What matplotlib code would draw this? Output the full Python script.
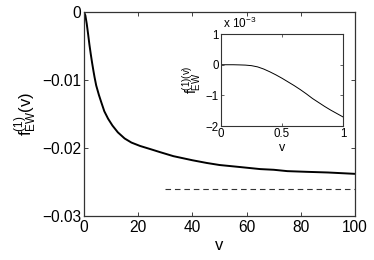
import matplotlib
matplotlib.use("Agg")
import matplotlib.pyplot as plt

plt.rcParams['font.family'] = ['Liberation Sans', 'DejaVu Sans']
plt.rcParams['mathtext.fontset'] = 'custom'
plt.rcParams['mathtext.rm'] = 'Liberation Sans'
plt.rcParams['mathtext.it'] = 'Liberation Sans'

# main curve
v_main = [0, 0.5, 1, 1.5, 2, 2.5, 3, 3.5, 3.9, 4.5, 5.5, 6.4, 7.5, 8.9, 10.5,
          12.5, 15, 17.5, 20.7, 24.8, 28, 33, 40, 45.3, 50, 57.6, 65, 70, 75,
          82, 90, 100]
f_main = [0, -0.0005, -0.0017, -0.0032, -0.0048, -0.0062, -0.0075, -0.0087,
          -0.0096, -0.0108, -0.0122, -0.0133, -0.0146, -0.0157, -0.0167,
          -0.0177, -0.0186, -0.0192, -0.0197, -0.0202, -0.0206, -0.0212,
          -0.0218, -0.0222, -0.0225, -0.0228, -0.0231, -0.0232, -0.0234,
          -0.0235, -0.0236, -0.0238]
# asymptote
v_asym = [30, 100]
f_asym = [-0.026, -0.026]

# inset curve (units of 1e-3)
v_ins = [0, 0.1, 0.15, 0.2, 0.25, 0.3, 0.35, 0.4, 0.45, 0.5, 0.55, 0.6, 0.65,
         0.7, 0.75, 0.8, 0.85, 0.9, 0.95, 1.0]
f_ins = [0, 0, -0.005, -0.012, -0.03, -0.07, -0.14, -0.23, -0.33, -0.44,
         -0.56, -0.68, -0.81, -0.95, -1.10, -1.23, -1.36, -1.48, -1.59, -1.70]

main_xticks = [0, 20, 40, 60, 80, 100]
main_yticks = [0, -0.01, -0.02, -0.03]
main_yticklabels = ['0', '\u22120.01', '\u22120.02', '\u22120.03']
ins_xticks = [0, 0.5, 1]
ins_xticklabels = ['0', '0.5', '1']
ins_yticks = [-2, -1, 0, 1]
ins_yticklabels = ['\u22122', '\u22121', '0', '1']

fig = plt.figure(figsize=(3.74, 2.60), dpi=100)
ax = fig.add_axes([0.2246, 0.1692, 0.7246, 0.7846])
ax.plot(v_main, f_main, color='black', lw=1.4)
ax.plot(v_asym, f_asym, color='#333333', lw=0.8, dashes=(5, 3.5))
ax.set_xlim(0, 100)
ax.set_ylim(-0.03, 0)
ax.set_xticks(main_xticks)
ax.set_yticks(main_yticks)
ax.set_yticklabels(main_yticklabels)
ax.tick_params(direction='in', top=True, right=True, labelsize=11.2,
               length=3, width=0.6, pad=2, colors='#222222')
ax.tick_params(axis='x', pad=3)
ax.tick_params(axis='both', labelcolor='black')
for s in ax.spines.values():
    s.set_linewidth(0.9)
    s.set_color('#333333')
ax.set_xlabel('v', fontsize=12, labelpad=2)
ax.set_ylabel(r'$\mathrm{f}^{(1)}_{\mathrm{EW}}\mathrm{(v)}$', fontsize=12, labelpad=2)

ins = fig.add_axes([0.591, 0.515, 0.326, 0.354])
ins.plot(v_ins, f_ins, color='black', lw=0.7)
ins.set_xlim(0, 1)
ins.set_ylim(-2, 1)
ins.set_xticks(ins_xticks)
ins.set_xticklabels(ins_xticklabels)
ins.set_yticks(ins_yticks)
ins.set_yticklabels(ins_yticklabels)
ins.tick_params(direction='in', top=True, right=True, labelsize=8.3,
                length=2.5, width=0.5, pad=1.5, colors='#222222')
ins.tick_params(axis='both', labelcolor='black')
for s in ins.spines.values():
    s.set_linewidth(0.8)
    s.set_color('#333333')
ins.set_xlabel('v', fontsize=9, labelpad=1)
ins.set_ylabel(r'$\mathrm{f}^{(1)(v)}_{\mathrm{EW}}$', fontsize=10, labelpad=1)
ins.text(0.02, 1.03, r'x 10$^{-3}$', transform=ins.transAxes, fontsize=8.5,
         ha='left', va='bottom')

fig.savefig('out.png', dpi=100)
